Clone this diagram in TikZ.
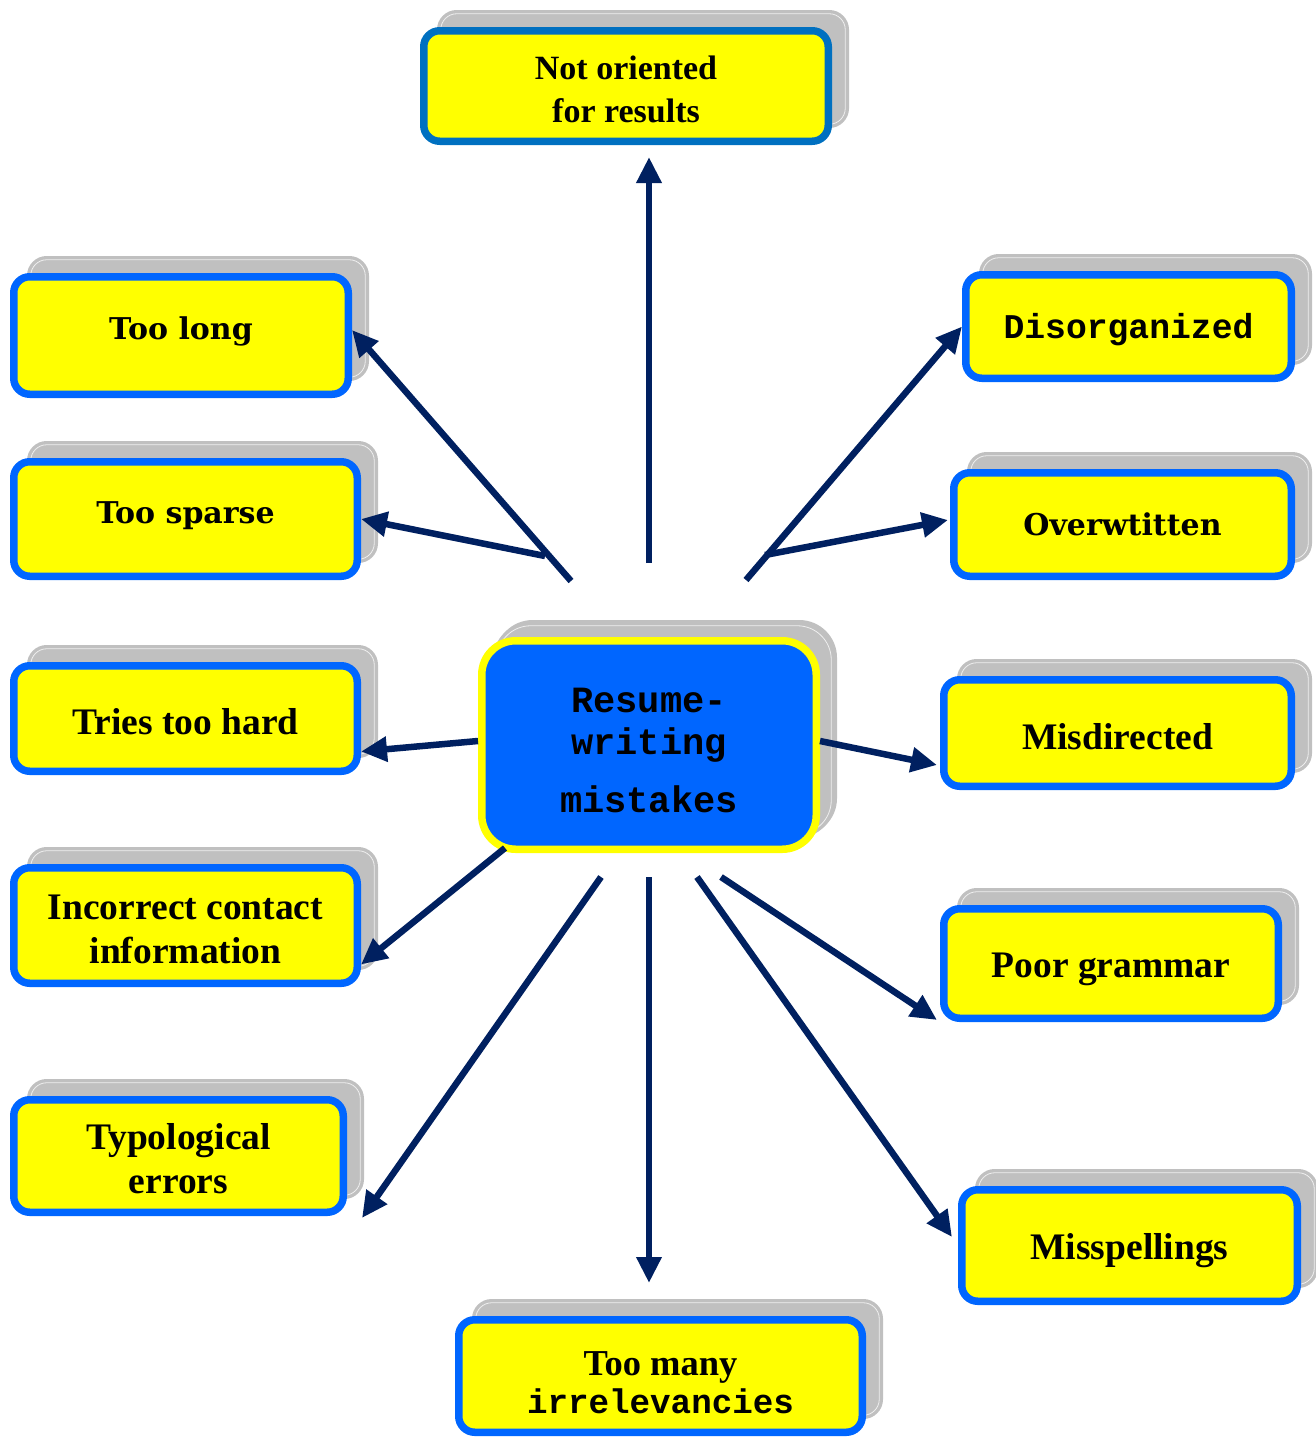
\documentclass[tikz,border=0pt]{standalone}
\usepackage{fontspec}
\usetikzlibrary{arrows.meta,shadows}
\newfontfamily\tms{Liberation Serif}
\newfontfamily\crr{Liberation Mono}
\newfontfamily\bkm{DejaVu Serif}
\definecolor{bxblue}{HTML}{0066FF}
\definecolor{topblue}{HTML}{0070C0}
\definecolor{sgray}{HTML}{C0C0C0}
\definecolor{swhite}{HTML}{EFEFEF}
\definecolor{navy}{HTML}{002060}
\definecolor{ylw}{HTML}{FFFF00}
\newcommand{\nudge}[1]{\rule{0pt}{#1}}
\newcommand{\dnudge}[1]{\rule[-#1]{0pt}{#1}}
\tikzset{
  box/.style={draw=bxblue, line width=7.5pt, fill=ylw, rounded corners=16pt,
    inner sep=0pt, align=center,
    copy shadow={shadow xshift=17pt, shadow yshift=17pt, fill=sgray, draw=sgray,
      line width=3.35pt, double=swhite, double distance=0.8pt}},
  tmsfont/.style={font=\tms\bfseries\fontsize{37.5}{44}\selectfont},
  crrfont/.style={font=\crr\bfseries\fontsize{34.7}{40}\selectfont},
  bkmfont/.style={font=\bkm\bfseries\fontsize{30}{36}\selectfont},
  arr/.style={draw=navy, line width=6.5pt, -{Triangle[length=26pt,width=24pt]}},
}
\begin{document}
\begin{tikzpicture}[x=1pt,y=-1pt]
\useasboundingbox (0,0) rectangle (1315,1440);

% boxes
\node[box, draw=topblue, minimum width=404.5pt, minimum height=110.5pt,
  font=\tms\bfseries\fontsize{34}{43}\selectfont] (notor) at (626,86) {\nudge{31pt}Not oriented\\for results};
\node[box, bkmfont, minimum width=334.5pt, minimum height=117.5pt] (toolong) at (181,335.5) {Too long\dnudge{15pt}};
\node[box, bkmfont, minimum width=343.5pt, minimum height=114.5pt] (sparse) at (185.5,519) {Too sparse\dnudge{13pt}};
\node[box, tmsfont, minimum width=343.5pt, minimum height=105.5pt] (tries) at (185.5,718.5) {\nudge{31.5pt}Tries too hard};
\node[box, tmsfont, minimum width=343.5pt, minimum height=115.5pt] (contact) at (185.5,925.5) {\nudge{31.5pt}Incorrect contact\\information};
\node[box, tmsfont, minimum width=329.5pt, minimum height=112.5pt] (typo) at (178.5,1156) {\nudge{31.5pt}Typological\\errors};
\node[box, minimum width=403.5pt, minimum height=112.5pt] (irrel) at (660.5,1376)
  {{\tms\bfseries\fontsize{36.5}{36}\selectfont\nudge{37.5pt}Too many}\\[4pt]{\crr\bfseries\fontsize{34.2}{36}\selectfont irrelevancies}};
\node[box, crrfont, minimum width=325.5pt, minimum height=103.5pt] (disorg) at (1128.5,326.5) {\nudge{31pt}Disorganized};
\node[box, bkmfont, minimum width=337.5pt, minimum height=103.5pt] (overw) at (1122.5,524.5) {Overwtitten};
\node[box, tmsfont, minimum width=347.5pt, minimum height=106.5pt] (misdir) at (1117.5,733) {\nudge{33.5pt}Misdirected};
\node[box, tmsfont, minimum width=334.5pt, minimum height=109.5pt] (grammar) at (1111,963.5) {\nudge{35.5pt}Poor grammar};
\node[box, tmsfont, minimum width=335.5pt, minimum height=111.5pt] (missp) at (1129.5,1245.5) {\nudge{35.5pt}Misspellings};

% centre
\node[box, draw=ylw, fill=bxblue, rounded corners=34pt, minimum width=334.5pt, minimum height=208.5pt,
  copy shadow={shadow xshift=15pt, shadow yshift=15pt, fill=sgray, draw=sgray,
      line width=3.35pt, double=swhite, double distance=0.8pt},
  font=\crr\bfseries\fontsize{37}{42}\selectfont] (center) at (649,745)
  {\nudge{34.5pt}Resume-\\writing\\[16pt]mistakes};

% free starts
\coordinate (sUp) at (649,563);
\coordinate (sLong) at (571,581);
\coordinate (sSparse) at (545,556);
\coordinate (sContact) at (505,848);
\coordinate (sTypo) at (601,877);
\coordinate (sIrrel) at (649,877);
\coordinate (sMissp) at (697,877);
\coordinate (sGram) at (721,877);
\coordinate (sOverw) at (765,555);
\coordinate (sDis) at (746,580);

% connectors
\draw[arr] (sUp) -- ([xshift=23pt,yshift=-12pt]notor.south);
\draw[arr] (sLong) -- ([yshift=5.5pt]toolong.east);
\draw[arr] (sSparse) -- (sparse.east);
\draw[arr] ([yshift=4pt]center.west) -- ([yshift=-33pt]tries.east);
\draw[arr] (sContact) -- ([yshift=-39pt]contact.east);
\draw[arr] (sTypo) -- ([xshift=15pt,yshift=-2pt]typo.south east);
\draw[arr] (sIrrel) -- ([xshift=-11.5pt,yshift=33pt]irrel.north);
\draw[arr] (sMissp) -- ([xshift=-6pt,yshift=8.5pt]missp.west);
\draw[arr] (sGram) -- ([xshift=-3pt,yshift=-56.5pt]grammar.west);
\draw[arr] ([yshift=4pt]center.east) -- ([xshift=-3pt,yshift=-32pt]misdir.west);
\draw[arr] (sOverw) -- ([xshift=-2pt,yshift=4.5pt]overw.west);
\draw[arr] (sDis) -- (disorg.west);
\end{tikzpicture}
\end{document}
